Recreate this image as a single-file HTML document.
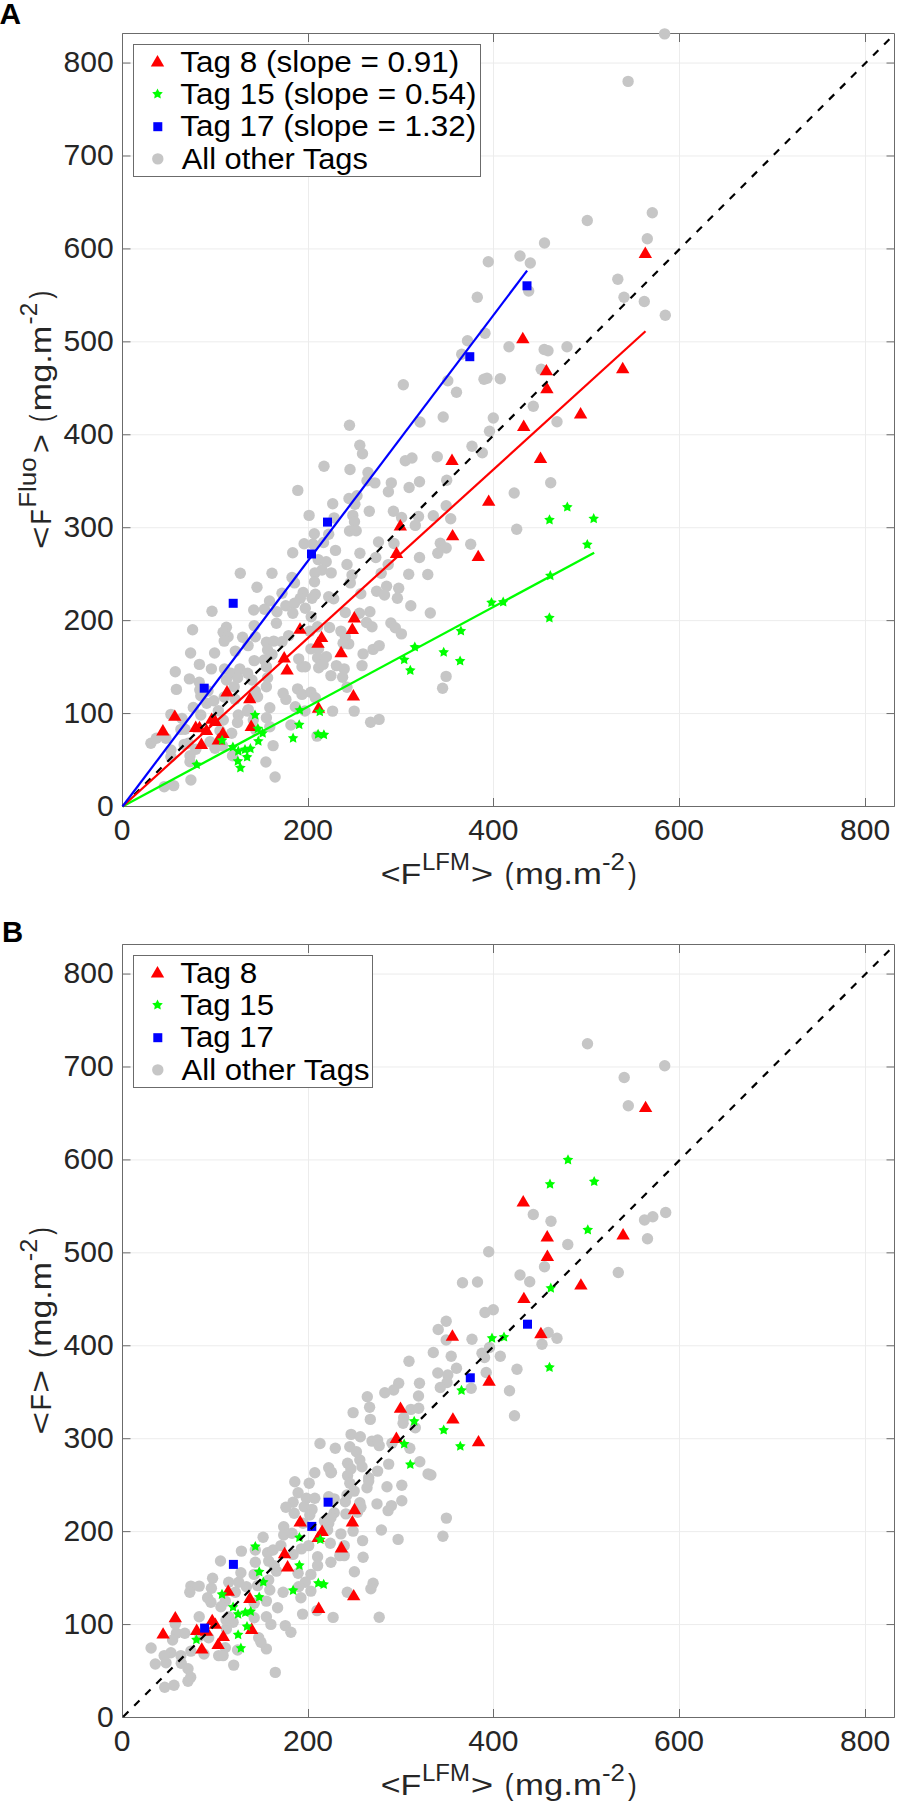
<!DOCTYPE html>
<html><head><meta charset="utf-8"><title>Fig</title>
<style>html,body{margin:0;padding:0;background:#fff;}svg{display:block;}</style></head>
<body><svg width="900" height="1805" viewBox="0 0 900 1805" font-family='"Liberation Sans", sans-serif'><rect width="900" height="1805" fill="#fff"/><path d="M308.5 33.5V806.5M493.5 33.5V806.5M679.5 33.5V806.5M865.5 33.5V806.5M122.5 713.57H894.5M122.5 620.64H894.5M122.5 527.71H894.5M122.5 434.78H894.5M122.5 341.85H894.5M122.5 248.92H894.5M122.5 155.99H894.5M122.5 63.06H894.5" stroke="#ececec" stroke-width="1" fill="none"/><path d="M122.5 806.5v-8.5M122.5 33.5v8.5M308.5 806.5v-8.5M308.5 33.5v8.5M493.5 806.5v-8.5M493.5 33.5v8.5M679.5 806.5v-8.5M679.5 33.5v8.5M865.5 806.5v-8.5M865.5 33.5v8.5M122.5 806.50h8M894.5 806.50h-8M122.5 713.57h8M894.5 713.57h-8M122.5 620.64h8M894.5 620.64h-8M122.5 527.71h8M894.5 527.71h-8M122.5 434.78h8M894.5 434.78h-8M122.5 341.85h8M894.5 341.85h-8M122.5 248.92h8M894.5 248.92h-8M122.5 155.99h8M894.5 155.99h-8M122.5 63.06h8M894.5 63.06h-8M122.5 33.5H894.5V806.5H122.5Z" stroke="#6b6b6b" stroke-width="1" fill="none"/><g><circle cx="664.6" cy="33.9" r="5.7" fill="#c6c6c6"/><circle cx="628.1" cy="81.4" r="5.7" fill="#c6c6c6"/><circle cx="544.5" cy="243.0" r="5.7" fill="#c6c6c6"/><circle cx="520.0" cy="256.0" r="5.7" fill="#c6c6c6"/><circle cx="530.3" cy="263.0" r="5.7" fill="#c6c6c6"/><circle cx="488.3" cy="261.7" r="5.7" fill="#c6c6c6"/><circle cx="477.3" cy="297.2" r="5.7" fill="#c6c6c6"/><circle cx="528.7" cy="291.0" r="5.7" fill="#c6c6c6"/><circle cx="587.3" cy="220.5" r="5.7" fill="#c6c6c6"/><circle cx="652.3" cy="212.7" r="5.7" fill="#c6c6c6"/><circle cx="647.3" cy="238.8" r="5.7" fill="#c6c6c6"/><circle cx="617.8" cy="279.2" r="5.7" fill="#c6c6c6"/><circle cx="624.0" cy="297.3" r="5.7" fill="#c6c6c6"/><circle cx="644.3" cy="301.5" r="5.7" fill="#c6c6c6"/><circle cx="665.3" cy="315.3" r="5.7" fill="#c6c6c6"/><circle cx="485.0" cy="333.3" r="5.7" fill="#c6c6c6"/><circle cx="467.5" cy="340.8" r="5.7" fill="#c6c6c6"/><circle cx="461.7" cy="354.2" r="5.7" fill="#c6c6c6"/><circle cx="509.0" cy="346.7" r="5.7" fill="#c6c6c6"/><circle cx="544.2" cy="349.5" r="5.7" fill="#c6c6c6"/><circle cx="548.0" cy="350.8" r="5.7" fill="#c6c6c6"/><circle cx="567.0" cy="346.7" r="5.7" fill="#c6c6c6"/><circle cx="541.2" cy="369.2" r="5.7" fill="#c6c6c6"/><circle cx="447.8" cy="380.8" r="5.7" fill="#c6c6c6"/><circle cx="484.0" cy="379.2" r="5.7" fill="#c6c6c6"/><circle cx="487.0" cy="378.3" r="5.7" fill="#c6c6c6"/><circle cx="500.3" cy="378.7" r="5.7" fill="#c6c6c6"/><circle cx="456.5" cy="392.2" r="5.7" fill="#c6c6c6"/><circle cx="533.3" cy="406.2" r="5.7" fill="#c6c6c6"/><circle cx="443.2" cy="417.0" r="5.7" fill="#c6c6c6"/><circle cx="493.3" cy="418.0" r="5.7" fill="#c6c6c6"/><circle cx="489.5" cy="431.2" r="5.7" fill="#c6c6c6"/><circle cx="557.0" cy="421.7" r="5.7" fill="#c6c6c6"/><circle cx="472.0" cy="446.2" r="5.7" fill="#c6c6c6"/><circle cx="482.3" cy="452.8" r="5.7" fill="#c6c6c6"/><circle cx="437.3" cy="456.7" r="5.7" fill="#c6c6c6"/><circle cx="446.7" cy="480.3" r="5.7" fill="#c6c6c6"/><circle cx="550.7" cy="482.8" r="5.7" fill="#c6c6c6"/><circle cx="514.2" cy="493.0" r="5.7" fill="#c6c6c6"/><circle cx="446.2" cy="505.8" r="5.7" fill="#c6c6c6"/><circle cx="433.3" cy="515.8" r="5.7" fill="#c6c6c6"/><circle cx="450.7" cy="518.8" r="5.7" fill="#c6c6c6"/><circle cx="516.7" cy="529.2" r="5.7" fill="#c6c6c6"/><circle cx="440.3" cy="543.3" r="5.7" fill="#c6c6c6"/><circle cx="446.2" cy="548.0" r="5.7" fill="#c6c6c6"/><circle cx="437.8" cy="553.3" r="5.7" fill="#c6c6c6"/><circle cx="470.7" cy="544.2" r="5.7" fill="#c6c6c6"/><circle cx="427.8" cy="574.5" r="5.7" fill="#c6c6c6"/><circle cx="430.3" cy="613.0" r="5.7" fill="#c6c6c6"/><circle cx="403.3" cy="384.7" r="5.7" fill="#c6c6c6"/><circle cx="420.0" cy="422.0" r="5.7" fill="#c6c6c6"/><circle cx="349.5" cy="425.3" r="5.7" fill="#c6c6c6"/><circle cx="359.8" cy="445.3" r="5.7" fill="#c6c6c6"/><circle cx="362.5" cy="453.8" r="5.7" fill="#c6c6c6"/><circle cx="405.3" cy="460.8" r="5.7" fill="#c6c6c6"/><circle cx="412.0" cy="458.0" r="5.7" fill="#c6c6c6"/><circle cx="324.0" cy="466.3" r="5.7" fill="#c6c6c6"/><circle cx="297.8" cy="490.4" r="5.7" fill="#c6c6c6"/><circle cx="332.7" cy="503.8" r="5.7" fill="#c6c6c6"/><circle cx="309.1" cy="515.4" r="5.7" fill="#c6c6c6"/><circle cx="334.1" cy="517.9" r="5.7" fill="#c6c6c6"/><circle cx="314.3" cy="533.8" r="5.7" fill="#c6c6c6"/><circle cx="328.7" cy="534.2" r="5.7" fill="#c6c6c6"/><circle cx="304.1" cy="543.8" r="5.7" fill="#c6c6c6"/><circle cx="313.0" cy="544.0" r="5.7" fill="#c6c6c6"/><circle cx="323.5" cy="542.5" r="5.7" fill="#c6c6c6"/><circle cx="350.0" cy="469.5" r="5.7" fill="#c6c6c6"/><circle cx="368.0" cy="472.5" r="5.7" fill="#c6c6c6"/><circle cx="367.0" cy="480.8" r="5.7" fill="#c6c6c6"/><circle cx="374.9" cy="482.9" r="5.7" fill="#c6c6c6"/><circle cx="391.3" cy="482.9" r="5.7" fill="#c6c6c6"/><circle cx="388.4" cy="491.8" r="5.7" fill="#c6c6c6"/><circle cx="409.1" cy="487.5" r="5.7" fill="#c6c6c6"/><circle cx="419.5" cy="481.7" r="5.7" fill="#c6c6c6"/><circle cx="357.0" cy="495.8" r="5.7" fill="#c6c6c6"/><circle cx="349.0" cy="498.5" r="5.7" fill="#c6c6c6"/><circle cx="354.9" cy="504.2" r="5.7" fill="#c6c6c6"/><circle cx="369.3" cy="511.2" r="5.7" fill="#c6c6c6"/><circle cx="393.4" cy="511.2" r="5.7" fill="#c6c6c6"/><circle cx="401.6" cy="517.5" r="5.7" fill="#c6c6c6"/><circle cx="352.8" cy="515.4" r="5.7" fill="#c6c6c6"/><circle cx="354.5" cy="521.7" r="5.7" fill="#c6c6c6"/><circle cx="418.5" cy="516.5" r="5.7" fill="#c6c6c6"/><circle cx="415.3" cy="525.4" r="5.7" fill="#c6c6c6"/><circle cx="349.5" cy="531.0" r="5.7" fill="#c6c6c6"/><circle cx="356.2" cy="530.8" r="5.7" fill="#c6c6c6"/><circle cx="378.5" cy="542.0" r="5.7" fill="#c6c6c6"/><circle cx="394.0" cy="543.5" r="5.7" fill="#c6c6c6"/><circle cx="292.7" cy="552.7" r="5.7" fill="#c6c6c6"/><circle cx="335.5" cy="550.4" r="5.7" fill="#c6c6c6"/><circle cx="318.2" cy="559.6" r="5.7" fill="#c6c6c6"/><circle cx="326.2" cy="561.7" r="5.7" fill="#c6c6c6"/><circle cx="314.9" cy="572.9" r="5.7" fill="#c6c6c6"/><circle cx="322.0" cy="570.0" r="5.7" fill="#c6c6c6"/><circle cx="331.2" cy="572.9" r="5.7" fill="#c6c6c6"/><circle cx="272.0" cy="573.3" r="5.7" fill="#c6c6c6"/><circle cx="292.0" cy="577.5" r="5.7" fill="#c6c6c6"/><circle cx="294.5" cy="582.9" r="5.7" fill="#c6c6c6"/><circle cx="314.5" cy="581.7" r="5.7" fill="#c6c6c6"/><circle cx="282.0" cy="593.3" r="5.7" fill="#c6c6c6"/><circle cx="303.2" cy="592.5" r="5.7" fill="#c6c6c6"/><circle cx="315.3" cy="594.2" r="5.7" fill="#c6c6c6"/><circle cx="328.7" cy="596.7" r="5.7" fill="#c6c6c6"/><circle cx="333.7" cy="598.8" r="5.7" fill="#c6c6c6"/><circle cx="300.3" cy="598.3" r="5.7" fill="#c6c6c6"/><circle cx="312.0" cy="598.3" r="5.7" fill="#c6c6c6"/><circle cx="269.5" cy="601.0" r="5.7" fill="#c6c6c6"/><circle cx="285.8" cy="605.8" r="5.7" fill="#c6c6c6"/><circle cx="294.5" cy="603.3" r="5.7" fill="#c6c6c6"/><circle cx="305.3" cy="608.3" r="5.7" fill="#c6c6c6"/><circle cx="277.0" cy="611.7" r="5.7" fill="#c6c6c6"/><circle cx="292.8" cy="613.3" r="5.7" fill="#c6c6c6"/><circle cx="311.2" cy="616.7" r="5.7" fill="#c6c6c6"/><circle cx="345.3" cy="612.5" r="5.7" fill="#c6c6c6"/><circle cx="359.9" cy="553.3" r="5.7" fill="#c6c6c6"/><circle cx="375.8" cy="557.5" r="5.7" fill="#c6c6c6"/><circle cx="347.0" cy="564.5" r="5.7" fill="#c6c6c6"/><circle cx="388.2" cy="564.6" r="5.7" fill="#c6c6c6"/><circle cx="419.5" cy="557.5" r="5.7" fill="#c6c6c6"/><circle cx="352.0" cy="575.0" r="5.7" fill="#c6c6c6"/><circle cx="381.2" cy="573.3" r="5.7" fill="#c6c6c6"/><circle cx="408.7" cy="574.2" r="5.7" fill="#c6c6c6"/><circle cx="350.3" cy="582.9" r="5.7" fill="#c6c6c6"/><circle cx="360.8" cy="593.8" r="5.7" fill="#c6c6c6"/><circle cx="376.6" cy="591.2" r="5.7" fill="#c6c6c6"/><circle cx="386.6" cy="586.2" r="5.7" fill="#c6c6c6"/><circle cx="384.5" cy="595.0" r="5.7" fill="#c6c6c6"/><circle cx="398.7" cy="588.3" r="5.7" fill="#c6c6c6"/><circle cx="397.4" cy="598.3" r="5.7" fill="#c6c6c6"/><circle cx="410.8" cy="605.8" r="5.7" fill="#c6c6c6"/><circle cx="359.5" cy="613.3" r="5.7" fill="#c6c6c6"/><circle cx="369.9" cy="611.7" r="5.7" fill="#c6c6c6"/><circle cx="366.5" cy="622.5" r="5.7" fill="#c6c6c6"/><circle cx="390.9" cy="623.0" r="5.7" fill="#c6c6c6"/><circle cx="240.3" cy="573.3" r="5.7" fill="#c6c6c6"/><circle cx="257.0" cy="587.2" r="5.7" fill="#c6c6c6"/><circle cx="253.7" cy="610.0" r="5.7" fill="#c6c6c6"/><circle cx="264.5" cy="609.2" r="5.7" fill="#c6c6c6"/><circle cx="212.0" cy="611.3" r="5.7" fill="#c6c6c6"/><circle cx="192.6" cy="629.8" r="5.7" fill="#c6c6c6"/><circle cx="190.6" cy="653.0" r="5.7" fill="#c6c6c6"/><circle cx="214.6" cy="653.0" r="5.7" fill="#c6c6c6"/><circle cx="199.4" cy="664.4" r="5.7" fill="#c6c6c6"/><circle cx="211.4" cy="668.9" r="5.7" fill="#c6c6c6"/><circle cx="175.3" cy="671.7" r="5.7" fill="#c6c6c6"/><circle cx="189.4" cy="678.9" r="5.7" fill="#c6c6c6"/><circle cx="199.2" cy="682.2" r="5.7" fill="#c6c6c6"/><circle cx="199.8" cy="690.0" r="5.7" fill="#c6c6c6"/><circle cx="176.4" cy="689.4" r="5.7" fill="#c6c6c6"/><circle cx="208.0" cy="691.0" r="5.7" fill="#c6c6c6"/><circle cx="170.9" cy="714.4" r="5.7" fill="#c6c6c6"/><circle cx="182.0" cy="718.5" r="5.7" fill="#c6c6c6"/><circle cx="180.9" cy="729.4" r="5.7" fill="#c6c6c6"/><circle cx="150.9" cy="743.3" r="5.7" fill="#c6c6c6"/><circle cx="156.4" cy="738.3" r="5.7" fill="#c6c6c6"/><circle cx="165.9" cy="738.3" r="5.7" fill="#c6c6c6"/><circle cx="170.9" cy="750.0" r="5.7" fill="#c6c6c6"/><circle cx="170.9" cy="756.7" r="5.7" fill="#c6c6c6"/><circle cx="184.2" cy="744.4" r="5.7" fill="#c6c6c6"/><circle cx="190.9" cy="780.0" r="5.7" fill="#c6c6c6"/><circle cx="164.2" cy="786.7" r="5.7" fill="#c6c6c6"/><circle cx="173.7" cy="785.6" r="5.7" fill="#c6c6c6"/><circle cx="200.8" cy="695.8" r="5.7" fill="#c6c6c6"/><circle cx="213.8" cy="700.8" r="5.7" fill="#c6c6c6"/><circle cx="224.2" cy="697.0" r="5.7" fill="#c6c6c6"/><circle cx="235.0" cy="699.2" r="5.7" fill="#c6c6c6"/><circle cx="193.3" cy="707.5" r="5.7" fill="#c6c6c6"/><circle cx="206.7" cy="703.3" r="5.7" fill="#c6c6c6"/><circle cx="218.3" cy="710.8" r="5.7" fill="#c6c6c6"/><circle cx="200.8" cy="715.0" r="5.7" fill="#c6c6c6"/><circle cx="238.3" cy="715.0" r="5.7" fill="#c6c6c6"/><circle cx="237.5" cy="722.5" r="5.7" fill="#c6c6c6"/><circle cx="223.3" cy="720.0" r="5.7" fill="#c6c6c6"/><circle cx="231.7" cy="733.3" r="5.7" fill="#c6c6c6"/><circle cx="220.0" cy="730.8" r="5.7" fill="#c6c6c6"/><circle cx="185.0" cy="729.2" r="5.7" fill="#c6c6c6"/><circle cx="210.0" cy="741.7" r="5.7" fill="#c6c6c6"/><circle cx="215.0" cy="748.3" r="5.7" fill="#c6c6c6"/><circle cx="222.5" cy="745.8" r="5.7" fill="#c6c6c6"/><circle cx="188.3" cy="743.3" r="5.7" fill="#c6c6c6"/><circle cx="195.8" cy="749.2" r="5.7" fill="#c6c6c6"/><circle cx="190.0" cy="755.8" r="5.7" fill="#c6c6c6"/><circle cx="190.0" cy="761.7" r="5.7" fill="#c6c6c6"/><circle cx="232.5" cy="755.8" r="5.7" fill="#c6c6c6"/><circle cx="248.3" cy="709.6" r="5.7" fill="#c6c6c6"/><circle cx="253.3" cy="720.0" r="5.7" fill="#c6c6c6"/><circle cx="255.8" cy="730.0" r="5.7" fill="#c6c6c6"/><circle cx="226.4" cy="627.2" r="5.7" fill="#c6c6c6"/><circle cx="223.1" cy="632.2" r="5.7" fill="#c6c6c6"/><circle cx="228.1" cy="636.7" r="5.7" fill="#c6c6c6"/><circle cx="224.2" cy="641.1" r="5.7" fill="#c6c6c6"/><circle cx="254.2" cy="625.6" r="5.7" fill="#c6c6c6"/><circle cx="276.4" cy="623.3" r="5.7" fill="#c6c6c6"/><circle cx="242.6" cy="637.2" r="5.7" fill="#c6c6c6"/><circle cx="255.3" cy="636.7" r="5.7" fill="#c6c6c6"/><circle cx="248.1" cy="645.6" r="5.7" fill="#c6c6c6"/><circle cx="235.3" cy="651.1" r="5.7" fill="#c6c6c6"/><circle cx="266.4" cy="642.2" r="5.7" fill="#c6c6c6"/><circle cx="273.7" cy="641.1" r="5.7" fill="#c6c6c6"/><circle cx="282.0" cy="641.7" r="5.7" fill="#c6c6c6"/><circle cx="288.7" cy="635.6" r="5.7" fill="#c6c6c6"/><circle cx="267.6" cy="650.0" r="5.7" fill="#c6c6c6"/><circle cx="272.0" cy="654.4" r="5.7" fill="#c6c6c6"/><circle cx="254.2" cy="660.6" r="5.7" fill="#c6c6c6"/><circle cx="264.2" cy="660.0" r="5.7" fill="#c6c6c6"/><circle cx="266.4" cy="666.7" r="5.7" fill="#c6c6c6"/><circle cx="239.8" cy="668.9" r="5.7" fill="#c6c6c6"/><circle cx="224.5" cy="669.0" r="5.7" fill="#c6c6c6"/><circle cx="230.9" cy="673.3" r="5.7" fill="#c6c6c6"/><circle cx="237.6" cy="677.8" r="5.7" fill="#c6c6c6"/><circle cx="247.6" cy="673.3" r="5.7" fill="#c6c6c6"/><circle cx="252.0" cy="680.0" r="5.7" fill="#c6c6c6"/><circle cx="267.6" cy="677.8" r="5.7" fill="#c6c6c6"/><circle cx="266.4" cy="686.7" r="5.7" fill="#c6c6c6"/><circle cx="226.4" cy="680.0" r="5.7" fill="#c6c6c6"/><circle cx="234.2" cy="686.7" r="5.7" fill="#c6c6c6"/><circle cx="255.3" cy="691.1" r="5.7" fill="#c6c6c6"/><circle cx="257.6" cy="696.7" r="5.7" fill="#c6c6c6"/><circle cx="283.1" cy="693.3" r="5.7" fill="#c6c6c6"/><circle cx="285.9" cy="699.4" r="5.7" fill="#c6c6c6"/><circle cx="297.6" cy="688.9" r="5.7" fill="#c6c6c6"/><circle cx="302.0" cy="694.4" r="5.7" fill="#c6c6c6"/><circle cx="310.9" cy="692.2" r="5.7" fill="#c6c6c6"/><circle cx="315.3" cy="697.8" r="5.7" fill="#c6c6c6"/><circle cx="269.8" cy="707.8" r="5.7" fill="#c6c6c6"/><circle cx="295.3" cy="706.7" r="5.7" fill="#c6c6c6"/><circle cx="266.4" cy="717.8" r="5.7" fill="#c6c6c6"/><circle cx="298.7" cy="658.9" r="5.7" fill="#c6c6c6"/><circle cx="302.0" cy="666.7" r="5.7" fill="#c6c6c6"/><circle cx="305.3" cy="666.7" r="5.7" fill="#c6c6c6"/><circle cx="310.9" cy="648.9" r="5.7" fill="#c6c6c6"/><circle cx="317.6" cy="657.8" r="5.7" fill="#c6c6c6"/><circle cx="318.7" cy="667.8" r="5.7" fill="#c6c6c6"/><circle cx="309.8" cy="631.1" r="5.7" fill="#c6c6c6"/><circle cx="317.6" cy="626.7" r="5.7" fill="#c6c6c6"/><circle cx="329.5" cy="627.5" r="5.7" fill="#c6c6c6"/><circle cx="340.9" cy="631.1" r="5.7" fill="#c6c6c6"/><circle cx="372.0" cy="626.7" r="5.7" fill="#c6c6c6"/><circle cx="395.3" cy="627.8" r="5.7" fill="#c6c6c6"/><circle cx="401.4" cy="633.9" r="5.7" fill="#c6c6c6"/><circle cx="345.3" cy="636.7" r="5.7" fill="#c6c6c6"/><circle cx="348.7" cy="643.9" r="5.7" fill="#c6c6c6"/><circle cx="343.1" cy="643.3" r="5.7" fill="#c6c6c6"/><circle cx="363.1" cy="653.9" r="5.7" fill="#c6c6c6"/><circle cx="373.1" cy="649.4" r="5.7" fill="#c6c6c6"/><circle cx="379.2" cy="645.6" r="5.7" fill="#c6c6c6"/><circle cx="362.0" cy="665.6" r="5.7" fill="#c6c6c6"/><circle cx="326.4" cy="656.7" r="5.7" fill="#c6c6c6"/><circle cx="323.1" cy="664.4" r="5.7" fill="#c6c6c6"/><circle cx="336.4" cy="665.6" r="5.7" fill="#c6c6c6"/><circle cx="344.2" cy="668.9" r="5.7" fill="#c6c6c6"/><circle cx="330.9" cy="675.6" r="5.7" fill="#c6c6c6"/><circle cx="342.6" cy="677.2" r="5.7" fill="#c6c6c6"/><circle cx="347.0" cy="687.2" r="5.7" fill="#c6c6c6"/><circle cx="332.6" cy="711.1" r="5.7" fill="#c6c6c6"/><circle cx="354.2" cy="711.1" r="5.7" fill="#c6c6c6"/><circle cx="446.1" cy="676.4" r="5.7" fill="#c6c6c6"/><circle cx="442.6" cy="688.3" r="5.7" fill="#c6c6c6"/><circle cx="247.6" cy="711.1" r="5.7" fill="#c6c6c6"/><circle cx="269.8" cy="726.7" r="5.7" fill="#c6c6c6"/><circle cx="290.9" cy="725.0" r="5.7" fill="#c6c6c6"/><circle cx="305.0" cy="711.0" r="5.7" fill="#c6c6c6"/><circle cx="273.1" cy="745.6" r="5.7" fill="#c6c6c6"/><circle cx="265.9" cy="762.0" r="5.7" fill="#c6c6c6"/><circle cx="275.1" cy="777.0" r="5.7" fill="#c6c6c6"/><circle cx="317.0" cy="736.1" r="5.7" fill="#c6c6c6"/><circle cx="370.6" cy="722.2" r="5.7" fill="#c6c6c6"/><circle cx="379.1" cy="719.4" r="5.7" fill="#c6c6c6"/><circle cx="318.5" cy="649.0" r="5.7" fill="#c6c6c6"/></g><g><path d="M638.6 257.9L652.0 257.9L645.3 246.6Z" fill="#ff0000"/><path d="M616.0 373.2L629.4 373.2L622.7 361.8Z" fill="#ff0000"/><path d="M573.9 418.5L587.3 418.5L580.6 407.1Z" fill="#ff0000"/><path d="M516.1 343.2L529.5 343.2L522.8 331.8Z" fill="#ff0000"/><path d="M539.7 375.3L553.1 375.3L546.4 363.9Z" fill="#ff0000"/><path d="M540.2 393.2L553.6 393.2L546.9 381.8Z" fill="#ff0000"/><path d="M517.0 430.9L530.4 430.9L523.7 419.6Z" fill="#ff0000"/><path d="M445.3 464.9L458.7 464.9L452.0 453.6Z" fill="#ff0000"/><path d="M533.8 462.9L547.2 462.9L540.5 451.6Z" fill="#ff0000"/><path d="M482.0 505.8L495.4 505.8L488.7 494.4Z" fill="#ff0000"/><path d="M445.9 540.3L459.3 540.3L452.6 528.9Z" fill="#ff0000"/><path d="M471.6 561.1L484.9 561.1L478.2 549.7Z" fill="#ff0000"/><path d="M393.6 530.4L407.0 530.4L400.3 519.0Z" fill="#ff0000"/><path d="M389.8 557.9L403.2 557.9L396.5 546.5Z" fill="#ff0000"/><path d="M347.6 622.4L361.0 622.4L354.3 611.0Z" fill="#ff0000"/><path d="M168.1 720.8L181.5 720.8L174.8 709.4Z" fill="#ff0000"/><path d="M156.2 735.4L169.6 735.4L162.9 724.0Z" fill="#ff0000"/><path d="M189.0 731.9L202.4 731.9L195.7 720.5Z" fill="#ff0000"/><path d="M192.8 732.2L206.2 732.2L199.5 720.8Z" fill="#ff0000"/><path d="M199.8 734.9L213.2 734.9L206.5 723.5Z" fill="#ff0000"/><path d="M205.0 723.8L218.4 723.8L211.7 712.4Z" fill="#ff0000"/><path d="M208.7 725.9L222.1 725.9L215.4 714.5Z" fill="#ff0000"/><path d="M194.7 748.9L208.1 748.9L201.4 737.5Z" fill="#ff0000"/><path d="M216.2 738.0L229.6 738.0L222.9 726.5Z" fill="#ff0000"/><path d="M211.6 744.5L225.0 744.5L218.3 733.0Z" fill="#ff0000"/><path d="M244.6 730.9L257.9 730.9L251.2 719.5Z" fill="#ff0000"/><path d="M243.1 703.2L256.4 703.2L249.8 691.8Z" fill="#ff0000"/><path d="M293.3 633.7L306.7 633.7L300.0 622.3Z" fill="#ff0000"/><path d="M277.5 662.5L290.9 662.5L284.2 651.1Z" fill="#ff0000"/><path d="M280.4 674.6L293.8 674.6L287.1 663.2Z" fill="#ff0000"/><path d="M220.3 696.5L233.7 696.5L227.0 685.1Z" fill="#ff0000"/><path d="M345.6 633.9L359.0 633.9L352.3 622.5Z" fill="#ff0000"/><path d="M314.9 642.1L328.3 642.1L321.6 630.7Z" fill="#ff0000"/><path d="M311.3 647.8L324.7 647.8L318.0 636.4Z" fill="#ff0000"/><path d="M334.4 657.2L347.8 657.2L341.1 645.8Z" fill="#ff0000"/><path d="M346.7 700.5L360.1 700.5L353.4 689.1Z" fill="#ff0000"/><path d="M311.8 712.7L325.2 712.7L318.5 701.3Z" fill="#ff0000"/></g><g><polygon points="593.7,513.1 595.3,516.4 599.0,517.0 596.4,519.6 597.0,523.2 593.7,521.5 590.4,523.2 591.0,519.6 588.4,517.0 592.1,516.4" fill="#00ff00"/><polygon points="587.3,539.0 588.9,542.3 592.6,542.9 590.0,545.5 590.6,549.1 587.3,547.4 584.0,549.1 584.6,545.5 582.0,542.9 585.7,542.3" fill="#00ff00"/><polygon points="567.3,501.5 568.9,504.8 572.6,505.4 570.0,508.0 570.6,511.6 567.3,509.9 564.0,511.6 564.6,508.0 562.0,505.4 565.7,504.8" fill="#00ff00"/><polygon points="549.5,514.3 551.1,517.6 554.8,518.2 552.2,520.8 552.8,524.4 549.5,522.7 546.2,524.4 546.8,520.8 544.2,518.2 547.9,517.6" fill="#00ff00"/><polygon points="550.3,570.1 551.9,573.4 555.6,574.0 553.0,576.6 553.6,580.2 550.3,578.5 547.0,580.2 547.6,576.6 545.0,574.0 548.7,573.4" fill="#00ff00"/><polygon points="491.5,597.0 493.1,600.3 496.8,600.9 494.2,603.5 494.8,607.1 491.5,605.4 488.2,607.1 488.8,603.5 486.2,600.9 489.9,600.3" fill="#00ff00"/><polygon points="503.2,596.5 504.8,599.8 508.5,600.4 505.9,603.0 506.5,606.6 503.2,604.9 499.9,606.6 500.5,603.0 497.9,600.4 501.6,599.8" fill="#00ff00"/><polygon points="549.4,612.3 551.0,615.6 554.7,616.2 552.1,618.8 552.7,622.4 549.4,620.7 546.1,622.4 546.7,618.8 544.1,616.2 547.8,615.6" fill="#00ff00"/><polygon points="222.1,734.8 223.7,738.1 227.4,738.7 224.8,741.3 225.4,744.9 222.1,743.2 218.8,744.9 219.4,741.3 216.8,738.7 220.5,738.1" fill="#00ff00"/><polygon points="255.0,709.4 256.6,712.7 260.3,713.3 257.7,715.9 258.3,719.5 255.0,717.8 251.7,719.5 252.3,715.9 249.7,713.3 253.4,712.7" fill="#00ff00"/><polygon points="257.9,723.1 259.5,726.4 263.2,727.0 260.6,729.6 261.2,733.2 257.9,731.5 254.6,733.2 255.2,729.6 252.6,727.0 256.3,726.4" fill="#00ff00"/><polygon points="232.9,741.5 234.5,744.8 238.2,745.4 235.6,748.0 236.2,751.6 232.9,749.9 229.6,751.6 230.2,748.0 227.6,745.4 231.3,744.8" fill="#00ff00"/><polygon points="238.3,745.6 239.9,748.9 243.6,749.5 241.0,752.1 241.6,755.7 238.3,754.0 235.0,755.7 235.6,752.1 233.0,749.5 236.7,748.9" fill="#00ff00"/><polygon points="245.0,744.0 246.6,747.3 250.3,747.9 247.7,750.5 248.3,754.1 245.0,752.4 241.7,754.1 242.3,750.5 239.7,747.9 243.4,747.3" fill="#00ff00"/><polygon points="250.4,743.1 252.0,746.4 255.7,747.0 253.1,749.6 253.7,753.2 250.4,751.5 247.1,753.2 247.7,749.6 245.1,747.0 248.8,746.4" fill="#00ff00"/><polygon points="247.1,751.5 248.7,754.8 252.4,755.4 249.8,758.0 250.4,761.6 247.1,759.9 243.8,761.6 244.4,758.0 241.8,755.4 245.5,754.8" fill="#00ff00"/><polygon points="237.9,755.6 239.5,758.9 243.2,759.5 240.6,762.1 241.2,765.7 237.9,764.0 234.6,765.7 235.2,762.1 232.6,759.5 236.3,758.9" fill="#00ff00"/><polygon points="240.4,762.3 242.0,765.6 245.7,766.2 243.1,768.8 243.7,772.4 240.4,770.7 237.1,772.4 237.7,768.8 235.1,766.2 238.8,765.6" fill="#00ff00"/><polygon points="258.3,735.6 259.9,738.9 263.6,739.5 261.0,742.1 261.6,745.7 258.3,744.0 255.0,745.7 255.6,742.1 253.0,739.5 256.7,738.9" fill="#00ff00"/><polygon points="196.7,759.0 198.3,762.3 202.0,762.9 199.4,765.5 200.0,769.1 196.7,767.4 193.4,769.1 194.0,765.5 191.4,762.9 195.1,762.3" fill="#00ff00"/><polygon points="299.8,704.6 301.4,707.9 305.1,708.5 302.5,711.1 303.1,714.7 299.8,713.0 296.5,714.7 297.1,711.1 294.5,708.5 298.2,707.9" fill="#00ff00"/><polygon points="414.8,641.5 416.4,644.8 420.1,645.4 417.5,648.0 418.1,651.6 414.8,649.9 411.5,651.6 412.1,648.0 409.5,645.4 413.2,644.8" fill="#00ff00"/><polygon points="404.2,654.2 405.8,657.5 409.5,658.1 406.9,660.7 407.5,664.3 404.2,662.6 400.9,664.3 401.5,660.7 398.9,658.1 402.6,657.5" fill="#00ff00"/><polygon points="410.3,664.8 411.9,668.1 415.6,668.7 413.0,671.3 413.6,674.9 410.3,673.2 407.0,674.9 407.6,671.3 405.0,668.7 408.7,668.1" fill="#00ff00"/><polygon points="460.9,625.4 462.5,628.7 466.2,629.3 463.6,631.9 464.2,635.5 460.9,633.8 457.6,635.5 458.2,631.9 455.6,629.3 459.3,628.7" fill="#00ff00"/><polygon points="443.7,646.7 445.3,650.0 449.0,650.6 446.4,653.2 447.0,656.8 443.7,655.1 440.4,656.8 441.0,653.2 438.4,650.6 442.1,650.0" fill="#00ff00"/><polygon points="460.1,655.4 461.7,658.7 465.4,659.3 462.8,661.9 463.4,665.5 460.1,663.8 456.8,665.5 457.4,661.9 454.8,659.3 458.5,658.7" fill="#00ff00"/><polygon points="262.6,727.6 264.2,730.9 267.9,731.5 265.3,734.1 265.9,737.7 262.6,736.0 259.3,737.7 259.9,734.1 257.3,731.5 261.0,730.9" fill="#00ff00"/><polygon points="299.2,719.2 300.8,722.5 304.5,723.1 301.9,725.7 302.5,729.3 299.2,727.6 295.9,729.3 296.5,725.7 293.9,723.1 297.6,722.5" fill="#00ff00"/><polygon points="293.1,732.6 294.7,735.9 298.4,736.5 295.8,739.1 296.4,742.7 293.1,741.0 289.8,742.7 290.4,739.1 287.8,736.5 291.5,735.9" fill="#00ff00"/><polygon points="318.1,728.7 319.7,732.0 323.4,732.6 320.8,735.2 321.4,738.8 318.1,737.1 314.8,738.8 315.4,735.2 312.8,732.6 316.5,732.0" fill="#00ff00"/><polygon points="319.8,706.2 321.4,709.5 325.1,710.1 322.5,712.7 323.1,716.3 319.8,714.6 316.5,716.3 317.1,712.7 314.5,710.1 318.2,709.5" fill="#00ff00"/><polygon points="323.9,729.2 325.5,732.5 329.2,733.1 326.6,735.7 327.2,739.3 323.9,737.6 320.6,739.3 321.2,735.7 318.6,733.1 322.3,732.5" fill="#00ff00"/></g><g><rect x="522.5" y="281.3" width="9.0" height="9.0" fill="#0000ff"/><rect x="465.3" y="352.2" width="9.0" height="9.0" fill="#0000ff"/><rect x="323.0" y="517.6" width="9.0" height="9.0" fill="#0000ff"/><rect x="307.0" y="549.5" width="9.0" height="9.0" fill="#0000ff"/><rect x="228.7" y="598.8" width="9.0" height="9.0" fill="#0000ff"/><rect x="199.7" y="683.7" width="9.0" height="9.0" fill="#0000ff"/></g><path d="M122.5 806.5L891.8 36.8" stroke="#000" stroke-width="2.2" stroke-dasharray="7.4 8.2" stroke-dashoffset="-1.0" fill="none"/><path d="M122.5 806.5L594.2 552.7" stroke="#00ff00" stroke-width="2.3" fill="none"/><path d="M122.5 806.5L645.5 331.3" stroke="#ff0000" stroke-width="2.2" fill="none"/><path d="M122.5 806.5L527.1 270.6" stroke="#0000ff" stroke-width="2.2" fill="none"/><rect x="133.5" y="44.5" width="347" height="132" fill="#fff" stroke="#6b6b6b" stroke-width="1"/><path d="M150.8 66.4L164.2 66.4L157.5 55.0Z" fill="#ff0000"/><polygon points="157.5,88.4 159.1,91.7 162.8,92.3 160.2,94.9 160.8,98.5 157.5,96.8 154.2,98.5 154.8,94.9 152.2,92.3 155.9,91.7" fill="#00ff00"/><rect x="153.3" y="122.2" width="9.0" height="9.0" fill="#0000ff"/><circle cx="157.8" cy="158.9" r="5.7" fill="#c6c6c6"/><path d="M308.5 944.5V1717.5M493.5 944.5V1717.5M679.5 944.5V1717.5M865.5 944.5V1717.5M122.5 1624.57H894.5M122.5 1531.64H894.5M122.5 1438.71H894.5M122.5 1345.78H894.5M122.5 1252.85H894.5M122.5 1159.92H894.5M122.5 1066.99H894.5M122.5 974.06H894.5" stroke="#ececec" stroke-width="1" fill="none"/><path d="M122.5 1717.5v-8.5M122.5 944.5v8.5M308.5 1717.5v-8.5M308.5 944.5v8.5M493.5 1717.5v-8.5M493.5 944.5v8.5M679.5 1717.5v-8.5M679.5 944.5v8.5M865.5 1717.5v-8.5M865.5 944.5v8.5M122.5 1717.50h8M894.5 1717.50h-8M122.5 1624.57h8M894.5 1624.57h-8M122.5 1531.64h8M894.5 1531.64h-8M122.5 1438.71h8M894.5 1438.71h-8M122.5 1345.78h8M894.5 1345.78h-8M122.5 1252.85h8M894.5 1252.85h-8M122.5 1159.92h8M894.5 1159.92h-8M122.5 1066.99h8M894.5 1066.99h-8M122.5 974.06h8M894.5 974.06h-8M122.5 944.5H894.5V1717.5H122.5Z" stroke="#6b6b6b" stroke-width="1" fill="none"/><g><circle cx="587.5" cy="1043.7" r="5.7" fill="#c6c6c6"/><circle cx="664.7" cy="1065.8" r="5.7" fill="#c6c6c6"/><circle cx="624.2" cy="1077.5" r="5.7" fill="#c6c6c6"/><circle cx="628.3" cy="1105.8" r="5.7" fill="#c6c6c6"/><circle cx="533.3" cy="1214.5" r="5.7" fill="#c6c6c6"/><circle cx="551.0" cy="1221.2" r="5.7" fill="#c6c6c6"/><circle cx="567.8" cy="1244.5" r="5.7" fill="#c6c6c6"/><circle cx="488.7" cy="1251.7" r="5.7" fill="#c6c6c6"/><circle cx="544.5" cy="1266.7" r="5.7" fill="#c6c6c6"/><circle cx="520.0" cy="1275.0" r="5.7" fill="#c6c6c6"/><circle cx="529.7" cy="1281.7" r="5.7" fill="#c6c6c6"/><circle cx="477.5" cy="1282.0" r="5.7" fill="#c6c6c6"/><circle cx="462.5" cy="1282.8" r="5.7" fill="#c6c6c6"/><circle cx="644.5" cy="1220.0" r="5.7" fill="#c6c6c6"/><circle cx="652.8" cy="1216.7" r="5.7" fill="#c6c6c6"/><circle cx="665.7" cy="1212.5" r="5.7" fill="#c6c6c6"/><circle cx="647.5" cy="1238.8" r="5.7" fill="#c6c6c6"/><circle cx="618.3" cy="1272.5" r="5.7" fill="#c6c6c6"/><circle cx="485.0" cy="1312.5" r="5.7" fill="#c6c6c6"/><circle cx="493.3" cy="1309.7" r="5.7" fill="#c6c6c6"/><circle cx="446.2" cy="1321.3" r="5.7" fill="#c6c6c6"/><circle cx="438.2" cy="1329.5" r="5.7" fill="#c6c6c6"/><circle cx="446.2" cy="1340.0" r="5.7" fill="#c6c6c6"/><circle cx="472.0" cy="1339.2" r="5.7" fill="#c6c6c6"/><circle cx="548.2" cy="1332.5" r="5.7" fill="#c6c6c6"/><circle cx="557.0" cy="1338.3" r="5.7" fill="#c6c6c6"/><circle cx="542.0" cy="1344.2" r="5.7" fill="#c6c6c6"/><circle cx="433.3" cy="1352.5" r="5.7" fill="#c6c6c6"/><circle cx="451.2" cy="1356.2" r="5.7" fill="#c6c6c6"/><circle cx="489.5" cy="1347.5" r="5.7" fill="#c6c6c6"/><circle cx="482.0" cy="1353.3" r="5.7" fill="#c6c6c6"/><circle cx="484.5" cy="1357.5" r="5.7" fill="#c6c6c6"/><circle cx="500.3" cy="1356.3" r="5.7" fill="#c6c6c6"/><circle cx="517.0" cy="1369.2" r="5.7" fill="#c6c6c6"/><circle cx="456.5" cy="1368.3" r="5.7" fill="#c6c6c6"/><circle cx="437.8" cy="1373.0" r="5.7" fill="#c6c6c6"/><circle cx="447.8" cy="1375.0" r="5.7" fill="#c6c6c6"/><circle cx="447.0" cy="1382.5" r="5.7" fill="#c6c6c6"/><circle cx="440.3" cy="1387.5" r="5.7" fill="#c6c6c6"/><circle cx="486.2" cy="1372.5" r="5.7" fill="#c6c6c6"/><circle cx="471.2" cy="1388.3" r="5.7" fill="#c6c6c6"/><circle cx="509.5" cy="1390.8" r="5.7" fill="#c6c6c6"/><circle cx="514.5" cy="1415.8" r="5.7" fill="#c6c6c6"/><circle cx="409.0" cy="1361.3" r="5.7" fill="#c6c6c6"/><circle cx="398.7" cy="1383.3" r="5.7" fill="#c6c6c6"/><circle cx="419.5" cy="1383.3" r="5.7" fill="#c6c6c6"/><circle cx="393.7" cy="1390.0" r="5.7" fill="#c6c6c6"/><circle cx="384.8" cy="1392.8" r="5.7" fill="#c6c6c6"/><circle cx="367.3" cy="1396.7" r="5.7" fill="#c6c6c6"/><circle cx="369.6" cy="1407.2" r="5.7" fill="#c6c6c6"/><circle cx="353.1" cy="1412.6" r="5.7" fill="#c6c6c6"/><circle cx="370.3" cy="1419.4" r="5.7" fill="#c6c6c6"/><circle cx="418.5" cy="1396.0" r="5.7" fill="#c6c6c6"/><circle cx="410.9" cy="1409.4" r="5.7" fill="#c6c6c6"/><circle cx="418.7" cy="1408.3" r="5.7" fill="#c6c6c6"/><circle cx="403.7" cy="1417.8" r="5.7" fill="#c6c6c6"/><circle cx="403.1" cy="1423.3" r="5.7" fill="#c6c6c6"/><circle cx="415.3" cy="1427.8" r="5.7" fill="#c6c6c6"/><circle cx="351.1" cy="1434.4" r="5.7" fill="#c6c6c6"/><circle cx="360.3" cy="1436.7" r="5.7" fill="#c6c6c6"/><circle cx="320.0" cy="1443.5" r="5.7" fill="#c6c6c6"/><circle cx="335.3" cy="1448.3" r="5.7" fill="#c6c6c6"/><circle cx="372.0" cy="1441.1" r="5.7" fill="#c6c6c6"/><circle cx="377.6" cy="1440.0" r="5.7" fill="#c6c6c6"/><circle cx="379.2" cy="1445.6" r="5.7" fill="#c6c6c6"/><circle cx="392.0" cy="1443.3" r="5.7" fill="#c6c6c6"/><circle cx="409.8" cy="1448.3" r="5.7" fill="#c6c6c6"/><circle cx="349.8" cy="1446.7" r="5.7" fill="#c6c6c6"/><circle cx="356.4" cy="1451.7" r="5.7" fill="#c6c6c6"/><circle cx="347.6" cy="1463.3" r="5.7" fill="#c6c6c6"/><circle cx="359.8" cy="1460.0" r="5.7" fill="#c6c6c6"/><circle cx="362.0" cy="1466.7" r="5.7" fill="#c6c6c6"/><circle cx="350.9" cy="1468.9" r="5.7" fill="#c6c6c6"/><circle cx="388.7" cy="1464.1" r="5.7" fill="#c6c6c6"/><circle cx="377.6" cy="1471.1" r="5.7" fill="#c6c6c6"/><circle cx="419.8" cy="1461.7" r="5.7" fill="#c6c6c6"/><circle cx="328.7" cy="1467.8" r="5.7" fill="#c6c6c6"/><circle cx="331.4" cy="1472.2" r="5.7" fill="#c6c6c6"/><circle cx="347.6" cy="1475.6" r="5.7" fill="#c6c6c6"/><circle cx="368.7" cy="1477.8" r="5.7" fill="#c6c6c6"/><circle cx="428.1" cy="1473.9" r="5.7" fill="#c6c6c6"/><circle cx="430.9" cy="1475.0" r="5.7" fill="#c6c6c6"/><circle cx="446.4" cy="1518.1" r="5.7" fill="#c6c6c6"/><circle cx="314.8" cy="1472.8" r="5.7" fill="#c6c6c6"/><circle cx="294.8" cy="1481.7" r="5.7" fill="#c6c6c6"/><circle cx="309.2" cy="1483.3" r="5.7" fill="#c6c6c6"/><circle cx="298.1" cy="1492.8" r="5.7" fill="#c6c6c6"/><circle cx="306.4" cy="1498.3" r="5.7" fill="#c6c6c6"/><circle cx="314.8" cy="1498.3" r="5.7" fill="#c6c6c6"/><circle cx="293.1" cy="1502.2" r="5.7" fill="#c6c6c6"/><circle cx="285.9" cy="1507.2" r="5.7" fill="#c6c6c6"/><circle cx="294.2" cy="1513.3" r="5.7" fill="#c6c6c6"/><circle cx="304.2" cy="1506.7" r="5.7" fill="#c6c6c6"/><circle cx="312.0" cy="1509.4" r="5.7" fill="#c6c6c6"/><circle cx="309.8" cy="1515.0" r="5.7" fill="#c6c6c6"/><circle cx="283.7" cy="1526.7" r="5.7" fill="#c6c6c6"/><circle cx="283.7" cy="1535.0" r="5.7" fill="#c6c6c6"/><circle cx="292.0" cy="1533.3" r="5.7" fill="#c6c6c6"/><circle cx="263.1" cy="1537.2" r="5.7" fill="#c6c6c6"/><circle cx="241.4" cy="1551.1" r="5.7" fill="#c6c6c6"/><circle cx="255.3" cy="1550.0" r="5.7" fill="#c6c6c6"/><circle cx="267.6" cy="1552.8" r="5.7" fill="#c6c6c6"/><circle cx="273.1" cy="1550.0" r="5.7" fill="#c6c6c6"/><circle cx="280.9" cy="1545.6" r="5.7" fill="#c6c6c6"/><circle cx="301.4" cy="1548.9" r="5.7" fill="#c6c6c6"/><circle cx="308.7" cy="1545.6" r="5.7" fill="#c6c6c6"/><circle cx="293.1" cy="1554.4" r="5.7" fill="#c6c6c6"/><circle cx="255.3" cy="1562.2" r="5.7" fill="#c6c6c6"/><circle cx="268.7" cy="1561.1" r="5.7" fill="#c6c6c6"/><circle cx="274.2" cy="1565.6" r="5.7" fill="#c6c6c6"/><circle cx="317.6" cy="1556.7" r="5.7" fill="#c6c6c6"/><circle cx="317.6" cy="1565.6" r="5.7" fill="#c6c6c6"/><circle cx="303.1" cy="1523.3" r="5.7" fill="#c6c6c6"/><circle cx="330.9" cy="1472.8" r="5.7" fill="#c6c6c6"/><circle cx="368.7" cy="1481.1" r="5.7" fill="#c6c6c6"/><circle cx="367.0" cy="1487.8" r="5.7" fill="#c6c6c6"/><circle cx="387.0" cy="1486.7" r="5.7" fill="#c6c6c6"/><circle cx="401.8" cy="1485.3" r="5.7" fill="#c6c6c6"/><circle cx="349.8" cy="1483.3" r="5.7" fill="#c6c6c6"/><circle cx="354.2" cy="1491.1" r="5.7" fill="#c6c6c6"/><circle cx="347.0" cy="1495.0" r="5.7" fill="#c6c6c6"/><circle cx="328.7" cy="1496.7" r="5.7" fill="#c6c6c6"/><circle cx="334.2" cy="1498.9" r="5.7" fill="#c6c6c6"/><circle cx="345.3" cy="1501.7" r="5.7" fill="#c6c6c6"/><circle cx="359.8" cy="1502.8" r="5.7" fill="#c6c6c6"/><circle cx="360.9" cy="1507.2" r="5.7" fill="#c6c6c6"/><circle cx="377.0" cy="1503.9" r="5.7" fill="#c6c6c6"/><circle cx="391.4" cy="1505.6" r="5.7" fill="#c6c6c6"/><circle cx="388.1" cy="1510.6" r="5.7" fill="#c6c6c6"/><circle cx="401.8" cy="1500.8" r="5.7" fill="#c6c6c6"/><circle cx="334.2" cy="1512.8" r="5.7" fill="#c6c6c6"/><circle cx="330.9" cy="1517.8" r="5.7" fill="#c6c6c6"/><circle cx="324.4" cy="1521.1" r="5.7" fill="#c6c6c6"/><circle cx="345.9" cy="1513.9" r="5.7" fill="#c6c6c6"/><circle cx="357.6" cy="1512.2" r="5.7" fill="#c6c6c6"/><circle cx="328.7" cy="1523.3" r="5.7" fill="#c6c6c6"/><circle cx="327.6" cy="1530.0" r="5.7" fill="#c6c6c6"/><circle cx="340.9" cy="1533.9" r="5.7" fill="#c6c6c6"/><circle cx="353.1" cy="1531.1" r="5.7" fill="#c6c6c6"/><circle cx="381.4" cy="1530.0" r="5.7" fill="#c6c6c6"/><circle cx="398.1" cy="1539.4" r="5.7" fill="#c6c6c6"/><circle cx="362.6" cy="1540.6" r="5.7" fill="#c6c6c6"/><circle cx="330.3" cy="1543.3" r="5.7" fill="#c6c6c6"/><circle cx="344.2" cy="1545.6" r="5.7" fill="#c6c6c6"/><circle cx="339.8" cy="1555.6" r="5.7" fill="#c6c6c6"/><circle cx="344.2" cy="1555.6" r="5.7" fill="#c6c6c6"/><circle cx="330.9" cy="1562.2" r="5.7" fill="#c6c6c6"/><circle cx="363.1" cy="1557.2" r="5.7" fill="#c6c6c6"/><circle cx="220.5" cy="1561.0" r="5.7" fill="#c6c6c6"/><circle cx="240.9" cy="1572.8" r="5.7" fill="#c6c6c6"/><circle cx="276.4" cy="1571.1" r="5.7" fill="#c6c6c6"/><circle cx="254.2" cy="1574.4" r="5.7" fill="#c6c6c6"/><circle cx="268.7" cy="1580.0" r="5.7" fill="#c6c6c6"/><circle cx="269.8" cy="1590.0" r="5.7" fill="#c6c6c6"/><circle cx="257.6" cy="1585.6" r="5.7" fill="#c6c6c6"/><circle cx="228.7" cy="1582.2" r="5.7" fill="#c6c6c6"/><circle cx="238.7" cy="1582.2" r="5.7" fill="#c6c6c6"/><circle cx="235.3" cy="1592.2" r="5.7" fill="#c6c6c6"/><circle cx="246.4" cy="1586.7" r="5.7" fill="#c6c6c6"/><circle cx="283.1" cy="1592.2" r="5.7" fill="#c6c6c6"/><circle cx="298.1" cy="1573.3" r="5.7" fill="#c6c6c6"/><circle cx="310.9" cy="1574.4" r="5.7" fill="#c6c6c6"/><circle cx="305.3" cy="1582.2" r="5.7" fill="#c6c6c6"/><circle cx="298.7" cy="1586.7" r="5.7" fill="#c6c6c6"/><circle cx="310.9" cy="1591.1" r="5.7" fill="#c6c6c6"/><circle cx="300.9" cy="1597.8" r="5.7" fill="#c6c6c6"/><circle cx="266.4" cy="1601.1" r="5.7" fill="#c6c6c6"/><circle cx="277.6" cy="1607.8" r="5.7" fill="#c6c6c6"/><circle cx="254.2" cy="1603.3" r="5.7" fill="#c6c6c6"/><circle cx="225.3" cy="1601.1" r="5.7" fill="#c6c6c6"/><circle cx="302.6" cy="1614.1" r="5.7" fill="#c6c6c6"/><circle cx="317.0" cy="1610.6" r="5.7" fill="#c6c6c6"/><circle cx="266.4" cy="1616.7" r="5.7" fill="#c6c6c6"/><circle cx="270.9" cy="1624.4" r="5.7" fill="#c6c6c6"/><circle cx="285.3" cy="1625.6" r="5.7" fill="#c6c6c6"/><circle cx="290.9" cy="1632.2" r="5.7" fill="#c6c6c6"/><circle cx="254.2" cy="1617.8" r="5.7" fill="#c6c6c6"/><circle cx="228.7" cy="1616.7" r="5.7" fill="#c6c6c6"/><circle cx="233.1" cy="1622.2" r="5.7" fill="#c6c6c6"/><circle cx="226.4" cy="1628.9" r="5.7" fill="#c6c6c6"/><circle cx="258.7" cy="1637.8" r="5.7" fill="#c6c6c6"/><circle cx="266.4" cy="1648.9" r="5.7" fill="#c6c6c6"/><circle cx="237.6" cy="1650.0" r="5.7" fill="#c6c6c6"/><circle cx="225.3" cy="1647.8" r="5.7" fill="#c6c6c6"/><circle cx="223.1" cy="1655.6" r="5.7" fill="#c6c6c6"/><circle cx="260.9" cy="1642.2" r="5.7" fill="#c6c6c6"/><circle cx="212.6" cy="1578.3" r="5.7" fill="#c6c6c6"/><circle cx="190.9" cy="1586.1" r="5.7" fill="#c6c6c6"/><circle cx="199.2" cy="1586.1" r="5.7" fill="#c6c6c6"/><circle cx="189.8" cy="1592.2" r="5.7" fill="#c6c6c6"/><circle cx="211.4" cy="1588.3" r="5.7" fill="#c6c6c6"/><circle cx="207.6" cy="1597.8" r="5.7" fill="#c6c6c6"/><circle cx="210.9" cy="1602.2" r="5.7" fill="#c6c6c6"/><circle cx="220.9" cy="1606.7" r="5.7" fill="#c6c6c6"/><circle cx="199.2" cy="1616.7" r="5.7" fill="#c6c6c6"/><circle cx="175.3" cy="1623.9" r="5.7" fill="#c6c6c6"/><circle cx="176.4" cy="1633.3" r="5.7" fill="#c6c6c6"/><circle cx="184.8" cy="1633.3" r="5.7" fill="#c6c6c6"/><circle cx="172.6" cy="1640.0" r="5.7" fill="#c6c6c6"/><circle cx="151.1" cy="1648.0" r="5.7" fill="#c6c6c6"/><circle cx="170.9" cy="1652.8" r="5.7" fill="#c6c6c6"/><circle cx="180.9" cy="1655.6" r="5.7" fill="#c6c6c6"/><circle cx="164.2" cy="1655.6" r="5.7" fill="#c6c6c6"/><circle cx="190.9" cy="1651.1" r="5.7" fill="#c6c6c6"/><circle cx="208.7" cy="1637.8" r="5.7" fill="#c6c6c6"/><circle cx="218.7" cy="1655.6" r="5.7" fill="#c6c6c6"/><circle cx="200.0" cy="1636.0" r="5.7" fill="#c6c6c6"/><circle cx="226.0" cy="1620.0" r="5.7" fill="#c6c6c6"/><circle cx="155.3" cy="1664.0" r="5.7" fill="#c6c6c6"/><circle cx="166.0" cy="1662.7" r="5.7" fill="#c6c6c6"/><circle cx="181.3" cy="1663.3" r="5.7" fill="#c6c6c6"/><circle cx="188.0" cy="1668.7" r="5.7" fill="#c6c6c6"/><circle cx="204.0" cy="1654.0" r="5.7" fill="#c6c6c6"/><circle cx="233.7" cy="1665.1" r="5.7" fill="#c6c6c6"/><circle cx="190.7" cy="1677.3" r="5.7" fill="#c6c6c6"/><circle cx="188.0" cy="1681.3" r="5.7" fill="#c6c6c6"/><circle cx="164.7" cy="1687.3" r="5.7" fill="#c6c6c6"/><circle cx="174.0" cy="1685.3" r="5.7" fill="#c6c6c6"/><circle cx="354.4" cy="1571.7" r="5.7" fill="#c6c6c6"/><circle cx="373.1" cy="1583.3" r="5.7" fill="#c6c6c6"/><circle cx="370.9" cy="1588.7" r="5.7" fill="#c6c6c6"/><circle cx="347.3" cy="1592.2" r="5.7" fill="#c6c6c6"/><circle cx="333.1" cy="1617.4" r="5.7" fill="#c6c6c6"/><circle cx="379.2" cy="1617.2" r="5.7" fill="#c6c6c6"/><circle cx="275.3" cy="1672.4" r="5.7" fill="#c6c6c6"/><circle cx="442.9" cy="1536.3" r="5.7" fill="#c6c6c6"/></g><g><path d="M638.9 1112.1L652.3 1112.1L645.6 1100.7Z" fill="#ff0000"/><path d="M516.5 1206.5L530.0 1206.5L523.2 1195.1Z" fill="#ff0000"/><path d="M540.5 1241.5L554.0 1241.5L547.2 1230.1Z" fill="#ff0000"/><path d="M540.7 1261.0L554.1 1261.0L547.4 1249.5Z" fill="#ff0000"/><path d="M574.2 1289.6L587.6 1289.6L580.9 1278.2Z" fill="#ff0000"/><path d="M616.4 1239.5L629.8 1239.5L623.1 1228.0Z" fill="#ff0000"/><path d="M517.2 1303.1L530.6 1303.1L523.9 1291.7Z" fill="#ff0000"/><path d="M445.7 1340.7L459.1 1340.7L452.4 1329.3Z" fill="#ff0000"/><path d="M534.2 1338.2L547.6 1338.2L540.9 1326.8Z" fill="#ff0000"/><path d="M482.4 1385.7L495.8 1385.7L489.1 1374.3Z" fill="#ff0000"/><path d="M446.2 1423.6L459.6 1423.6L452.9 1412.2Z" fill="#ff0000"/><path d="M393.8 1412.8L407.2 1412.8L400.5 1401.4Z" fill="#ff0000"/><path d="M389.7 1442.9L403.1 1442.9L396.4 1431.5Z" fill="#ff0000"/><path d="M471.8 1446.3L485.2 1446.3L478.5 1434.9Z" fill="#ff0000"/><path d="M293.5 1526.4L306.9 1526.4L300.2 1515.0Z" fill="#ff0000"/><path d="M277.9 1558.2L291.3 1558.2L284.6 1546.8Z" fill="#ff0000"/><path d="M280.9 1571.5L294.3 1571.5L287.6 1560.1Z" fill="#ff0000"/><path d="M347.8 1514.2L361.2 1514.2L354.5 1502.8Z" fill="#ff0000"/><path d="M345.7 1526.4L359.1 1526.4L352.4 1515.0Z" fill="#ff0000"/><path d="M334.7 1552.4L348.1 1552.4L341.4 1541.0Z" fill="#ff0000"/><path d="M315.4 1536.0L328.8 1536.0L322.1 1524.6Z" fill="#ff0000"/><path d="M311.5 1542.1L324.9 1542.1L318.2 1530.7Z" fill="#ff0000"/><path d="M221.5 1595.8L234.9 1595.8L228.2 1584.4Z" fill="#ff0000"/><path d="M243.2 1602.9L256.6 1602.9L249.9 1591.5Z" fill="#ff0000"/><path d="M245.0 1634.0L258.4 1634.0L251.7 1622.6Z" fill="#ff0000"/><path d="M312.0 1613.0L325.4 1613.0L318.7 1601.6Z" fill="#ff0000"/><path d="M168.6 1622.3L182.0 1622.3L175.3 1610.9Z" fill="#ff0000"/><path d="M156.4 1638.6L169.8 1638.6L163.1 1627.2Z" fill="#ff0000"/><path d="M205.5 1625.1L218.9 1625.1L212.2 1613.7Z" fill="#ff0000"/><path d="M208.6 1628.8L222.0 1628.8L215.3 1617.4Z" fill="#ff0000"/><path d="M190.0 1635.0L203.4 1635.0L196.7 1623.6Z" fill="#ff0000"/><path d="M199.9 1635.8L213.3 1635.8L206.6 1624.4Z" fill="#ff0000"/><path d="M216.6 1641.1L230.0 1641.1L223.3 1629.7Z" fill="#ff0000"/><path d="M211.4 1649.1L224.8 1649.1L218.1 1637.7Z" fill="#ff0000"/><path d="M195.1 1653.6L208.5 1653.6L201.8 1642.2Z" fill="#ff0000"/><path d="M347.0 1600.3L360.4 1600.3L353.7 1588.9Z" fill="#ff0000"/></g><g><polygon points="568.0,1154.3 569.6,1157.6 573.3,1158.2 570.7,1160.8 571.3,1164.4 568.0,1162.7 564.7,1164.4 565.3,1160.8 562.7,1158.2 566.4,1157.6" fill="#00ff00"/><polygon points="550.0,1178.6 551.6,1181.9 555.3,1182.5 552.7,1185.1 553.3,1188.7 550.0,1187.0 546.7,1188.7 547.3,1185.1 544.7,1182.5 548.4,1181.9" fill="#00ff00"/><polygon points="594.2,1176.0 595.8,1179.3 599.5,1179.9 596.9,1182.5 597.5,1186.1 594.2,1184.4 590.9,1186.1 591.5,1182.5 588.9,1179.9 592.6,1179.3" fill="#00ff00"/><polygon points="587.8,1224.3 589.4,1227.6 593.1,1228.2 590.5,1230.8 591.1,1234.4 587.8,1232.7 584.5,1234.4 585.1,1230.8 582.5,1228.2 586.2,1227.6" fill="#00ff00"/><polygon points="550.8,1282.6 552.4,1285.9 556.1,1286.5 553.5,1289.1 554.1,1292.7 550.8,1291.0 547.5,1292.7 548.1,1289.1 545.5,1286.5 549.2,1285.9" fill="#00ff00"/><polygon points="492.0,1332.6 493.6,1335.9 497.3,1336.5 494.7,1339.1 495.3,1342.7 492.0,1341.0 488.7,1342.7 489.3,1339.1 486.7,1336.5 490.4,1335.9" fill="#00ff00"/><polygon points="504.0,1331.5 505.6,1334.8 509.3,1335.4 506.7,1338.0 507.3,1341.6 504.0,1339.9 500.7,1341.6 501.3,1338.0 498.7,1335.4 502.4,1334.8" fill="#00ff00"/><polygon points="549.5,1361.8 551.1,1365.1 554.8,1365.7 552.2,1368.3 552.8,1371.9 549.5,1370.2 546.2,1371.9 546.8,1368.3 544.2,1365.7 547.9,1365.1" fill="#00ff00"/><polygon points="461.5,1384.8 463.1,1388.1 466.8,1388.7 464.2,1391.3 464.8,1394.9 461.5,1393.2 458.2,1394.9 458.8,1391.3 456.2,1388.7 459.9,1388.1" fill="#00ff00"/><polygon points="443.7,1424.5 445.3,1427.8 449.0,1428.4 446.4,1431.0 447.0,1434.6 443.7,1432.9 440.4,1434.6 441.0,1431.0 438.4,1428.4 442.1,1427.8" fill="#00ff00"/><polygon points="414.2,1415.7 415.8,1419.0 419.5,1419.6 416.9,1422.2 417.5,1425.8 414.2,1424.1 410.9,1425.8 411.5,1422.2 408.9,1419.6 412.6,1419.0" fill="#00ff00"/><polygon points="404.2,1438.4 405.8,1441.7 409.5,1442.3 406.9,1444.9 407.5,1448.5 404.2,1446.8 400.9,1448.5 401.5,1444.9 398.9,1442.3 402.6,1441.7" fill="#00ff00"/><polygon points="410.3,1458.9 411.9,1462.2 415.6,1462.8 413.0,1465.4 413.6,1469.0 410.3,1467.3 407.0,1469.0 407.6,1465.4 405.0,1462.8 408.7,1462.2" fill="#00ff00"/><polygon points="460.3,1440.7 461.9,1444.0 465.6,1444.6 463.0,1447.2 463.6,1450.8 460.3,1449.1 457.0,1450.8 457.6,1447.2 455.0,1444.6 458.7,1444.0" fill="#00ff00"/><polygon points="255.3,1540.9 256.9,1544.2 260.6,1544.8 258.0,1547.4 258.6,1551.0 255.3,1549.3 252.0,1551.0 252.6,1547.4 250.0,1544.8 253.7,1544.2" fill="#00ff00"/><polygon points="299.4,1532.0 301.0,1535.3 304.7,1535.9 302.1,1538.5 302.7,1542.1 299.4,1540.4 296.1,1542.1 296.7,1538.5 294.1,1535.9 297.8,1535.3" fill="#00ff00"/><polygon points="299.4,1559.8 301.0,1563.1 304.7,1563.7 302.1,1566.3 302.7,1569.9 299.4,1568.2 296.1,1569.9 296.7,1566.3 294.1,1563.7 297.8,1563.1" fill="#00ff00"/><polygon points="320.3,1534.0 321.9,1537.3 325.6,1537.9 323.0,1540.5 323.6,1544.1 320.3,1542.4 317.0,1544.1 317.6,1540.5 315.0,1537.9 318.7,1537.3" fill="#00ff00"/><polygon points="259.2,1566.3 260.8,1569.6 264.5,1570.2 261.9,1572.8 262.5,1576.4 259.2,1574.7 255.9,1576.4 256.5,1572.8 253.9,1570.2 257.6,1569.6" fill="#00ff00"/><polygon points="263.3,1576.5 264.9,1579.8 268.6,1580.4 266.0,1583.0 266.6,1586.6 263.3,1584.9 260.0,1586.6 260.6,1583.0 258.0,1580.4 261.7,1579.8" fill="#00ff00"/><polygon points="293.1,1584.8 294.7,1588.1 298.4,1588.7 295.8,1591.3 296.4,1594.9 293.1,1593.2 289.8,1594.9 290.4,1591.3 287.8,1588.7 291.5,1588.1" fill="#00ff00"/><polygon points="318.3,1577.6 319.9,1580.9 323.6,1581.5 321.0,1584.1 321.6,1587.7 318.3,1586.0 315.0,1587.7 315.6,1584.1 313.0,1581.5 316.7,1580.9" fill="#00ff00"/><polygon points="323.7,1578.8 325.3,1582.1 329.0,1582.7 326.4,1585.3 327.0,1588.9 323.7,1587.2 320.4,1588.9 321.0,1585.3 318.4,1582.7 322.1,1582.1" fill="#00ff00"/><polygon points="259.2,1591.5 260.8,1594.8 264.5,1595.4 261.9,1598.0 262.5,1601.6 259.2,1599.9 255.9,1601.6 256.5,1598.0 253.9,1595.4 257.6,1594.8" fill="#00ff00"/><polygon points="233.1,1601.5 234.7,1604.8 238.4,1605.4 235.8,1608.0 236.4,1611.6 233.1,1609.9 229.8,1611.6 230.4,1608.0 227.8,1605.4 231.5,1604.8" fill="#00ff00"/><polygon points="238.1,1608.7 239.7,1612.0 243.4,1612.6 240.8,1615.2 241.4,1618.8 238.1,1617.1 234.8,1618.8 235.4,1615.2 232.8,1612.6 236.5,1612.0" fill="#00ff00"/><polygon points="245.3,1607.0 246.9,1610.3 250.6,1610.9 248.0,1613.5 248.6,1617.1 245.3,1615.4 242.0,1617.1 242.6,1613.5 240.0,1610.9 243.7,1610.3" fill="#00ff00"/><polygon points="250.7,1605.9 252.3,1609.2 256.0,1609.8 253.4,1612.4 254.0,1616.0 250.7,1614.3 247.4,1616.0 248.0,1612.4 245.4,1609.8 249.1,1609.2" fill="#00ff00"/><polygon points="247.0,1620.9 248.6,1624.2 252.3,1624.8 249.7,1627.4 250.3,1631.0 247.0,1629.3 243.7,1631.0 244.3,1627.4 241.7,1624.8 245.4,1624.2" fill="#00ff00"/><polygon points="238.1,1629.2 239.7,1632.5 243.4,1633.1 240.8,1635.7 241.4,1639.3 238.1,1637.6 234.8,1639.3 235.4,1635.7 232.8,1633.1 236.5,1632.5" fill="#00ff00"/><polygon points="240.9,1642.6 242.5,1645.9 246.2,1646.5 243.6,1649.1 244.2,1652.7 240.9,1651.0 237.6,1652.7 238.2,1649.1 235.6,1646.5 239.3,1645.9" fill="#00ff00"/><polygon points="196.4,1634.2 198.0,1637.5 201.7,1638.1 199.1,1640.7 199.7,1644.3 196.4,1642.6 193.1,1644.3 193.7,1640.7 191.1,1638.1 194.8,1637.5" fill="#00ff00"/><polygon points="222.0,1588.8 223.6,1592.1 227.3,1592.7 224.7,1595.3 225.3,1598.9 222.0,1597.2 218.7,1598.9 219.3,1595.3 216.7,1592.7 220.4,1592.1" fill="#00ff00"/></g><g><rect x="523.0" y="1319.7" width="9.0" height="9.0" fill="#0000ff"/><rect x="465.8" y="1373.3" width="9.0" height="9.0" fill="#0000ff"/><rect x="307.3" y="1521.9" width="9.0" height="9.0" fill="#0000ff"/><rect x="228.9" y="1559.9" width="9.0" height="9.0" fill="#0000ff"/><rect x="323.6" y="1497.7" width="9.0" height="9.0" fill="#0000ff"/><rect x="200.1" y="1623.6" width="9.0" height="9.0" fill="#0000ff"/></g><path d="M122.5 1717.5L891.8 947.8" stroke="#000" stroke-width="2.2" stroke-dasharray="7.4 8.2" stroke-dashoffset="-1.0" fill="none"/><rect x="133.5" y="955.5" width="239" height="132" fill="#fff" stroke="#6b6b6b" stroke-width="1"/><path d="M150.8 977.4L164.2 977.4L157.5 966.0Z" fill="#ff0000"/><polygon points="157.5,999.4 159.1,1002.7 162.8,1003.3 160.2,1005.9 160.8,1009.5 157.5,1007.8 154.2,1009.5 154.8,1005.9 152.2,1003.3 155.9,1002.7" fill="#00ff00"/><rect x="153.3" y="1033.2" width="9.0" height="9.0" fill="#0000ff"/><circle cx="157.8" cy="1069.9" r="5.7" fill="#c6c6c6"/><text transform="translate(113.86 839.80) scale(1.0590 1.0450)" font-size="28.4" fill="#262626">0</text><text transform="translate(282.92 839.80) scale(1.0590 1.0450)" font-size="28.4" fill="#262626">200</text><text transform="translate(468.31 839.80) scale(1.0590 1.0450)" font-size="28.4" fill="#262626">400</text><text transform="translate(653.92 839.80) scale(1.0590 1.0450)" font-size="28.4" fill="#262626">600</text><text transform="translate(840.05 839.80) scale(1.0590 1.0450)" font-size="28.4" fill="#262626">800</text><text transform="translate(96.98 815.90) scale(1.0590 1.0450)" font-size="28.4" fill="#262626">0</text><text transform="translate(63.62 722.97) scale(1.0590 1.0450)" font-size="28.4" fill="#262626">100</text><text transform="translate(63.62 630.04) scale(1.0590 1.0450)" font-size="28.4" fill="#262626">200</text><text transform="translate(63.62 537.11) scale(1.0590 1.0450)" font-size="28.4" fill="#262626">300</text><text transform="translate(63.62 444.18) scale(1.0590 1.0450)" font-size="28.4" fill="#262626">400</text><text transform="translate(63.62 351.25) scale(1.0590 1.0450)" font-size="28.4" fill="#262626">500</text><text transform="translate(63.62 258.32) scale(1.0590 1.0450)" font-size="28.4" fill="#262626">600</text><text transform="translate(63.62 165.39) scale(1.0590 1.0450)" font-size="28.4" fill="#262626">700</text><text transform="translate(63.62 72.46) scale(1.0590 1.0450)" font-size="28.4" fill="#262626">800</text><text transform="translate(180.25 71.80) scale(1.1082 1.0300)" font-size="28.4" fill="#000">Tag 8 (slope = 0.91)</text><text transform="translate(180.25 104.10) scale(1.1080 1.0300)" font-size="28.4" fill="#000">Tag 15 (slope = 0.54)</text><text transform="translate(180.25 136.40) scale(1.1061 1.0300)" font-size="28.4" fill="#000">Tag 17 (slope = 1.32)</text><text transform="translate(181.80 168.50) scale(1.0850 1.0300)" font-size="28.4" fill="#000">All other Tags</text><text transform="translate(380.80 884.20) scale(1.1308 1.0000)" font-size="30.0" fill="#262626">&lt;F</text><text transform="translate(422.04 869.80) scale(0.9778 1.0000)" font-size="24.5" fill="#262626">LFM</text><text transform="translate(470.78 884.20) scale(1.2828 1.0000)" font-size="30.0" fill="#262626">&gt;</text><text transform="translate(504.67 884.20) scale(0.8750 1.0000)" font-size="30.0" fill="#262626">(</text><text transform="translate(515.09 884.20) scale(1.1563 1.0000)" font-size="30.0" fill="#262626">mg.m</text><text transform="translate(601.94 869.80) scale(1.0564 1.0000)" font-size="24.5" fill="#262626">-2</text><text transform="translate(628.08 884.20) scale(0.8750 1.0000)" font-size="30.0" fill="#262626">)</text><text transform="translate(51.00 549.27) rotate(-90) scale(1.3103 1.0000)" font-size="30.0" fill="#262626">&lt;</text><text transform="translate(51.00 524.38) rotate(-90) scale(0.8339 1.0000)" font-size="30.0" fill="#262626">F</text><text transform="translate(36.40 507.82) rotate(-90) scale(1.0592 1.0000)" font-size="24.5" fill="#262626">Fluo</text><text transform="translate(51.00 453.10) rotate(-90) scale(1.0690 1.0000)" font-size="30.0" fill="#262626">&gt;</text><text transform="translate(51.00 421.91) rotate(-90) scale(0.7500 1.0000)" font-size="30.0" fill="#262626">(</text><text transform="translate(51.00 411.39) rotate(-90) scale(1.1437 1.0000)" font-size="30.0" fill="#262626">mg.m</text><text transform="translate(36.80 324.39) rotate(-90) scale(0.9949 1.0000)" font-size="24.5" fill="#262626">-2</text><text transform="translate(51.00 298.70) rotate(-90) scale(0.8125 1.0000)" font-size="30.0" fill="#262626">)</text><text transform="translate(-0.44 24.00) scale(0.9827 0.9741)" font-size="30.4" font-weight="bold" fill="#000">A</text><text transform="translate(113.86 1750.80) scale(1.0590 1.0450)" font-size="28.4" fill="#262626">0</text><text transform="translate(282.92 1750.80) scale(1.0590 1.0450)" font-size="28.4" fill="#262626">200</text><text transform="translate(468.31 1750.80) scale(1.0590 1.0450)" font-size="28.4" fill="#262626">400</text><text transform="translate(653.92 1750.80) scale(1.0590 1.0450)" font-size="28.4" fill="#262626">600</text><text transform="translate(840.05 1750.80) scale(1.0590 1.0450)" font-size="28.4" fill="#262626">800</text><text transform="translate(96.98 1726.90) scale(1.0590 1.0450)" font-size="28.4" fill="#262626">0</text><text transform="translate(63.62 1633.97) scale(1.0590 1.0450)" font-size="28.4" fill="#262626">100</text><text transform="translate(63.62 1541.04) scale(1.0590 1.0450)" font-size="28.4" fill="#262626">200</text><text transform="translate(63.62 1448.11) scale(1.0590 1.0450)" font-size="28.4" fill="#262626">300</text><text transform="translate(63.62 1355.18) scale(1.0590 1.0450)" font-size="28.4" fill="#262626">400</text><text transform="translate(63.62 1262.25) scale(1.0590 1.0450)" font-size="28.4" fill="#262626">500</text><text transform="translate(63.62 1169.32) scale(1.0590 1.0450)" font-size="28.4" fill="#262626">600</text><text transform="translate(63.62 1076.39) scale(1.0590 1.0450)" font-size="28.4" fill="#262626">700</text><text transform="translate(63.62 983.46) scale(1.0590 1.0450)" font-size="28.4" fill="#262626">800</text><text transform="translate(180.35 982.80) scale(1.1085 1.0300)" font-size="28.4" fill="#000">Tag 8</text><text transform="translate(180.35 1015.10) scale(1.0994 1.0300)" font-size="28.4" fill="#000">Tag 15</text><text transform="translate(180.35 1047.40) scale(1.0958 1.0300)" font-size="28.4" fill="#000">Tag 17</text><text transform="translate(181.60 1079.50) scale(1.0956 1.0300)" font-size="28.4" fill="#000">All other Tags</text><text transform="translate(380.80 1795.20) scale(1.1308 1.0000)" font-size="30.0" fill="#262626">&lt;F</text><text transform="translate(422.04 1780.80) scale(0.9778 1.0000)" font-size="24.5" fill="#262626">LFM</text><text transform="translate(470.78 1795.20) scale(1.2828 1.0000)" font-size="30.0" fill="#262626">&gt;</text><text transform="translate(504.67 1795.20) scale(0.8750 1.0000)" font-size="30.0" fill="#262626">(</text><text transform="translate(515.09 1795.20) scale(1.1563 1.0000)" font-size="30.0" fill="#262626">mg.m</text><text transform="translate(601.94 1780.80) scale(1.0564 1.0000)" font-size="24.5" fill="#262626">-2</text><text transform="translate(628.08 1795.20) scale(0.8750 1.0000)" font-size="30.0" fill="#262626">)</text><text transform="translate(51.00 1434.67) rotate(-90) scale(1.3103 1.0000)" font-size="30.0" fill="#262626">&lt;</text><text transform="translate(51.00 1410.52) rotate(-90) scale(0.8881 1.0000)" font-size="30.0" fill="#262626">F</text><text transform="translate(51.00 1393.08) rotate(-90) scale(1.3172 1.0000)" font-size="30.0" fill="#262626">&gt;</text><text transform="translate(51.00 1358.05) rotate(-90) scale(0.8875 1.0000)" font-size="30.0" fill="#262626">(</text><text transform="translate(51.00 1346.86) rotate(-90) scale(1.1310 1.0000)" font-size="30.0" fill="#262626">mg.m</text><text transform="translate(37.00 1261.14) rotate(-90) scale(1.0359 1.0000)" font-size="24.5" fill="#262626">-2</text><text transform="translate(51.00 1234.68) rotate(-90) scale(0.7375 1.0000)" font-size="30.0" fill="#262626">)</text><text transform="translate(2.08 942.20) scale(0.9622 0.9857)" font-size="30.4" font-weight="bold" fill="#000">B</text></svg></body></html>
